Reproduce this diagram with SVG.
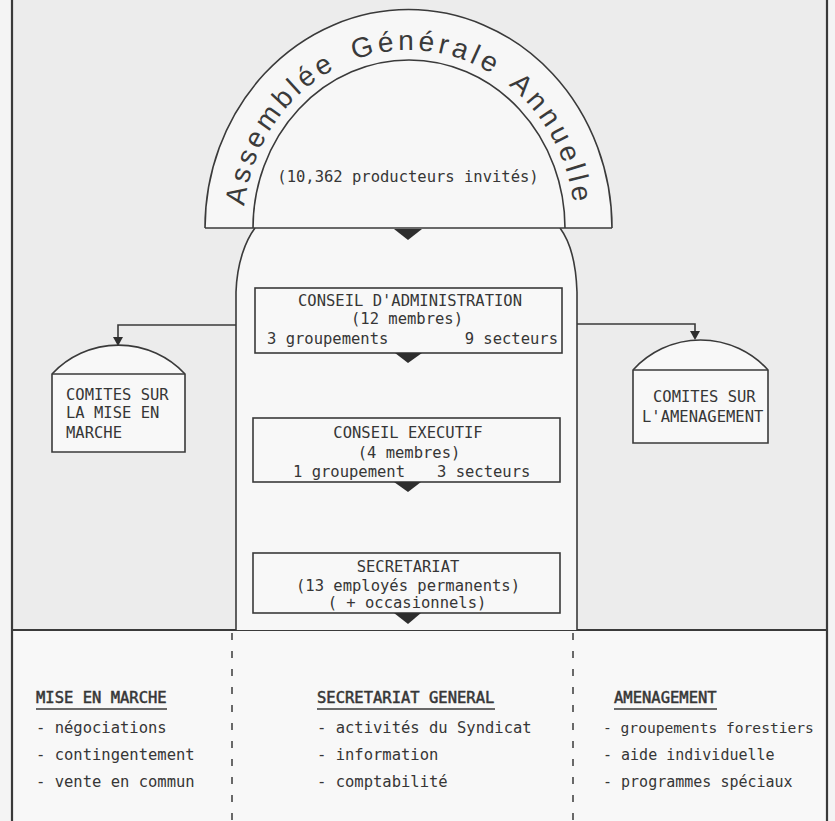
<svg xmlns="http://www.w3.org/2000/svg" width="835" height="821" viewBox="0 0 835 821">
  <defs>
    <style>
      .ln { fill: none; stroke: #3a3a3a; stroke-width: 1.6; }
      .frame { fill: none; stroke: #3a3a3a; stroke-width: 2.2; }
      .box { fill: #f8f8f8; stroke: #3a3a3a; stroke-width: 1.6; }
      .mono { font-family: "DejaVu Sans Mono", "Liberation Mono", monospace; font-size: 15.5px; fill: #363636; }
      .c { text-anchor: middle; }
      .e { text-anchor: end; }
      .hd { stroke: #363636; stroke-width: 0.5; }
      .arch { font-family: "Liberation Sans", Arial, sans-serif; font-size: 28px; fill: #3a3a3a; letter-spacing: 4px; word-spacing: 6px; }
      .tri { fill: #2e2e2e; }
      .dash { fill: none; stroke: #3a3a3a; stroke-width: 1.5; stroke-dasharray: 7 11; }
      .sm { font-size: 14.6px; }
      .sm2 { font-size: 15px; }
    </style>
    <path id="archPath" d="M 243,228 A 166 178 0 0 1 575,228"/>
  </defs>

  <!-- backgrounds -->
  <rect x="0" y="0" width="835" height="821" fill="#f4f4f4"/>
  <rect x="11" y="0" width="816" height="630" fill="#ececec"/>
  <rect x="11" y="630" width="816" height="191" fill="#f8f8f8"/>

  <!-- frame -->
  <g id="frame">
    <line class="frame" x1="12" y1="0" x2="12" y2="821"/>
    <line class="frame" x1="827" y1="0" x2="827" y2="821"/>
    <line class="frame" x1="11" y1="630" x2="828" y2="630"/>
  </g>

  <!-- central body -->
  <g id="body">
    <path d="M 255,228 C 246,240 237,262 236,292 L 236,630 L 577,630 L 577,292 C 576,262 569,240 560,228 Z" fill="#f7f7f7" stroke="none"/>
    <path class="ln" d="M 255,228 C 246,240 237,262 236,292 L 236,630"/>
    <path class="ln" d="M 560,228 C 569,240 576,262 577,292 L 577,630"/>
  </g>

  <!-- arch -->
  <g id="assemblee">
    <path d="M 205,228 A 203 218 0 0 1 612,228 Z" fill="#f7f7f7" stroke="none"/>
    <path class="ln" d="M 205,228 A 203 218 0 0 1 612,228"/>
    <path class="ln" d="M 253,228 A 156 168 0 0 1 565,228"/>
    <line class="ln" x1="205" y1="228" x2="612" y2="228"/>
    <text class="arch"><textPath href="#archPath" startOffset="50%" text-anchor="middle">Assemblée Générale Annuelle</textPath></text>
    <text class="mono c" x="408" y="182">(10,362 producteurs invités)</text>
  </g>

  <!-- conseil d'administration -->
  <g id="conseil-administration">
    <rect class="box" x="255" y="288" width="307" height="65"/>
    <text class="mono c" x="410" y="306">CONSEIL D'ADMINISTRATION</text>
    <text class="mono c" x="407" y="324">(12 membres)</text>
    <text class="mono" x="267" y="344">3 groupements</text>
    <text class="mono e" x="558" y="344">9 secteurs</text>
  </g>

  <!-- conseil executif -->
  <g id="conseil-executif">
    <rect class="box" x="253" y="418" width="307" height="64"/>
    <text class="mono c" x="408" y="438">CONSEIL EXECUTIF</text>
    <text class="mono c" x="409" y="458">(4 membres)</text>
    <text class="mono" x="293" y="477">1 groupement</text>
    <text class="mono" x="437" y="477">3 secteurs</text>
  </g>

  <!-- secretariat -->
  <g id="secretariat">
    <rect class="box" x="253" y="553" width="307" height="60"/>
    <text class="mono c" x="408" y="572">SECRETARIAT</text>
    <text class="mono c" x="408" y="591">(13 employés permanents)</text>
    <text class="mono c" x="407" y="608">( + occasionnels)</text>
  </g>

  <!-- side committees -->
  <g id="comites-mise-en-marche">
    <path class="box" d="M 52,374 A 91 91 0 0 1 185,374 L 185,452 L 52,452 Z"/>
    <line class="ln" x1="52" y1="374" x2="185" y2="374"/>
    <text class="mono" x="66" y="400">COMITES SUR</text>
    <text class="mono" x="66" y="418">LA MISE EN</text>
    <text class="mono" x="66" y="438">MARCHE</text>
  </g>

  <g id="comites-amenagement">
    <path class="box" d="M 633,370 A 91 91 0 0 1 768,370 L 768,443 L 633,443 Z"/>
    <line class="ln" x1="633" y1="370" x2="768" y2="370"/>
    <text class="mono" x="653" y="402">COMITES SUR</text>
    <text class="mono" x="642" y="422">L'AMENAGEMENT</text>
  </g>

  <!-- connectors -->
  <g id="connectors">
    <polygon class="tri" points="394,229 422,229 408,240"/>
    <polygon class="tri" points="395,353 422,353 408,363"/>
    <polygon class="tri" points="394,482 421,482 408,492"/>
    <polygon class="tri" points="394,613 421,613 408,624"/>
    <path class="ln" d="M 236,325 H 118 V 339"/>
    <polygon class="tri" points="113,337 123,337 118,346"/>
    <path class="ln" d="M 577,324 H 695 V 333"/>
    <polygon class="tri" points="690,331 700,331 695,340"/>
  </g>

  <!-- bottom departments -->
  <g id="separators">
    <line class="dash" x1="232" y1="633" x2="232" y2="821"/>
    <line class="dash" x1="573" y1="633" x2="573" y2="821"/>
  </g>

  <g id="mise-en-marche">
    <text class="mono hd" x="36" y="703">MISE EN MARCHE</text>
    <line class="ln" x1="36" y1="709" x2="167" y2="709" stroke-width="1.2"/>
    <text class="mono" x="36" y="733">- négociations</text>
    <text class="mono" x="36" y="760">- contingentement</text>
    <text class="mono" x="36" y="787">- vente en commun</text>
  </g>

  <g id="secretariat-general">
    <text class="mono hd" x="317" y="703">SECRETARIAT GENERAL</text>
    <line class="ln" x1="317" y1="709" x2="495" y2="709" stroke-width="1.2"/>
    <text class="mono" x="317" y="733">- activités du Syndicat</text>
    <text class="mono" x="317" y="760">- information</text>
    <text class="mono" x="317" y="787">- comptabilité</text>
  </g>

  <g id="amenagement">
    <text class="mono hd" x="614" y="703">AMENAGEMENT</text>
    <line class="ln" x1="614" y1="709" x2="717" y2="709" stroke-width="1.2"/>
    <text class="mono sm" x="603" y="733">- groupements forestiers</text>
    <text class="mono sm2" x="603" y="760">- aide individuelle</text>
    <text class="mono sm2" x="603" y="787">- programmes spéciaux</text>
  </g>
</svg>
